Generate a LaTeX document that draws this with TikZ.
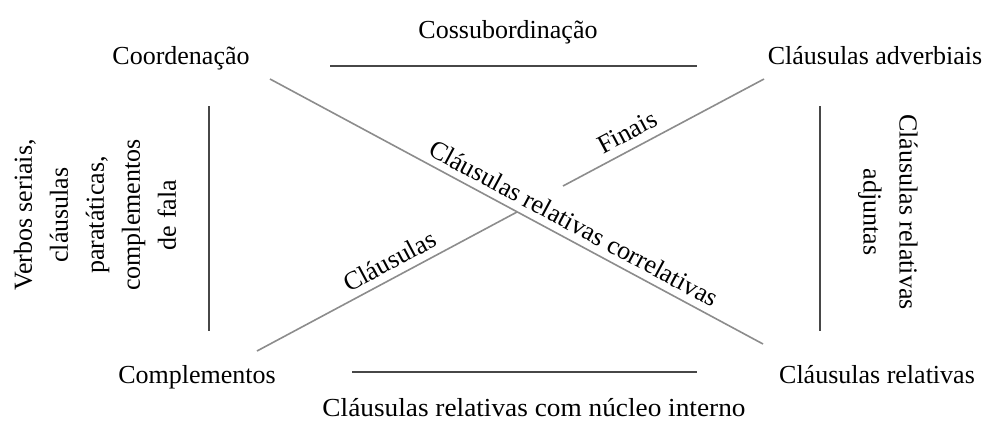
\documentclass[tikz,border=0pt]{standalone}
\usepackage{fontspec}
\setmainfont{Liberation Serif}
\begin{document}
\begin{tikzpicture}[x=1pt,y=-1pt,
  lab/.style={inner sep=0pt, font=\fontsize{26}{36}\selectfont},
  frameline/.style={draw=black!72, line width=2.6pt},
  diagline/.style={draw=black!45, line width=1.6pt},
  onlab/.style={sloped, anchor=base, inner sep=0pt, font=\fontsize{26}{36}\selectfont}]
\useasboundingbox (0,0) rectangle (992,421);
% corner and side labels
\node[lab, anchor=base] (cossub) at (508,38) {Cossubordinação};
\node[lab, anchor=base] (coord) at (181,64) {Coordenação};
\node[lab, anchor=base] (adverb) at (875,64) {Cláusulas adverbiais};
\node[lab, anchor=base] (compl) at (197,383) {Complementos};
\node[lab, anchor=base] (relat) at (877,383) {Cláusulas relativas};
\node[lab, anchor=base] (nucleo) at (534,416) {\scalebox{1.05}[1]{Cláusulas relativas com núcleo interno}};
\node[lab, rotate=90, align=center] (verbos) at (95,215)
  {Verbos seriais,\\cláusulas\\paratáticas,\\complementos\\de fala};
\node[lab, rotate=-90, align=center] (adjun) at (888,212)
  {Cláusulas relativas\\adjuntas};
% line end points
\coordinate (t1) at (330,66); \coordinate (t2) at (697,66);
\coordinate (b1) at (352,372); \coordinate (b2) at (697,372);
\coordinate (l1) at (209,106); \coordinate (l2) at (209,331);
\coordinate (r1) at (820,106); \coordinate (r2) at (820,331);
\coordinate (d1a) at (270,79); \coordinate (d1b) at (763,344);
\coordinate (d2a) at (257,351); \coordinate (d2b) at (517,212);
\coordinate (d2c) at (563,186); \coordinate (d2d) at (764,79);
% frame lines
\draw[frameline] (t1) -- (t2);
\draw[frameline] (b1) -- (b2);
\draw[frameline] (l1) -- (l2);
\draw[frameline] (r1) -- (r2);
% diagonals
\draw[diagline] (d1a) -- node[onlab, pos=0.6] (corr) {\raisebox{8pt}{Cláusulas relativas correlativas}} (d1b);
\draw[diagline] (d2a) -- node[onlab, pos=0.54] (claus) {\raisebox{8pt}{Cláusulas}} (d2b);
\draw[diagline] (d2c) -- node[onlab, pos=0.36] (finais) {\raisebox{9pt}{Finais}} (d2d);
\end{tikzpicture}
\end{document}
